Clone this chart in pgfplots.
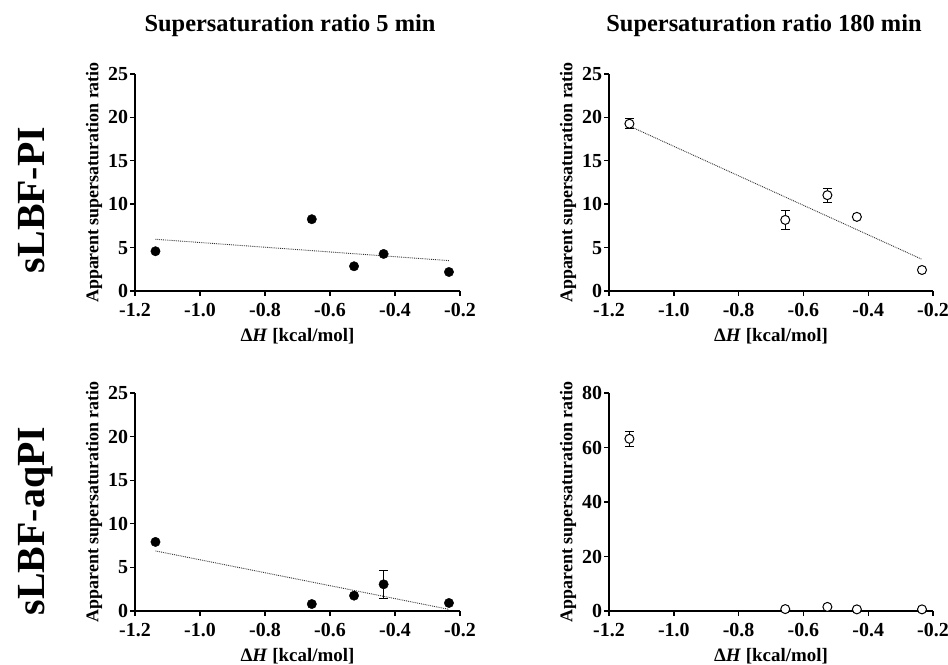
\documentclass[border=0pt]{standalone}
\usepackage{pgfplots}
\pgfplotsset{compat=1.18}
\usepackage{fontspec}
\setmainfont{Liberation Serif}

\pgfplotsset{
  panel/.style={
    scale only axis,
    width=325bp, height=217bp,
    anchor=south west,
    axis lines=left,
    axis line style={-, line width=1.6pt, black},
    every tick/.style={line width=1.4pt, black},
    tick align=outside,
    major tick length=5bp,
    xmin=-1.2, xmax=-0.2,
    xtick={-1.2,-1.0,-0.8,-0.6,-0.4,-0.2},
    xticklabels={-1.2,-1.0,-0.8,-0.6,-0.4,-0.2},
    ticklabel style={font=\fontsize{20}{22}\selectfont\bfseries},
    xticklabel style={yshift=-4bp},
    yticklabel style={xshift=1.5bp},
    /pgf/number format/assume math mode=true,
    xlabel={Δ\textit{H} [kcal/mol]},
    xlabel style={font=\fontsize{19}{21}\selectfont\bfseries, yshift=-4bp},
    ylabel={Apparent supersaturation ratio},
    ylabel style={font=\fontsize{18}{20}\selectfont\bfseries, yshift=-1bp},
    clip=false,
  },
  trend/.style={black!80, densely dotted, line width=0.9pt},
  filled/.style={only marks, mark=*, mark size=4.7bp, black},
  open/.style={only marks, mark=*, mark size=4.5bp, mark options={fill=white, draw=black, line width=1pt}},
  errs/.style={only marks, mark=none, black,
    error bars/.cd, y dir=both, y explicit,
    error bar style={line width=1pt, black},
    error mark options={rotate=90, mark size=4.5bp, line width=1pt, black}},
}

\begin{document}
\begin{tikzpicture}
\path[use as bounding box] (0,0) rectangle (948bp,665bp);

% column titles
\node[font=\fontsize{24.5}{27}\selectfont\bfseries] at (290bp,639bp) {Supersaturation ratio 5 min};
\node[font=\fontsize{24.5}{27}\selectfont\bfseries] at (764bp,639bp) {Supersaturation ratio 180 min};

% row labels
\node[rotate=90, anchor=base, font=\fontsize{40}{44}\selectfont\bfseries] at (44bp,465bp) {sLBF-PI};
\node[rotate=90, anchor=base, font=\fontsize{40}{44}\selectfont\bfseries] at (44bp,144bp) {sLBF-aqPI};

% sLBF-PI, 5 min
\begin{axis}[panel, at={(135bp,374bp)}, ymin=0, ymax=25, ytick={0,5,10,15,20,25}]
\addplot[trend] coordinates {(-1.137,5.96) (-0.234,3.50)};
\addplot[filled] coordinates {
  (-1.137,4.58) (-0.656,8.27) (-0.526,2.85) (-0.435,4.27) (-0.234,2.19)
};
\end{axis}

% sLBF-PI, 180 min
\begin{axis}[panel, at={(609bp,374bp)}, width=324bp, ymin=0, ymax=25, ytick={0,5,10,15,20,25}]
\addplot[trend] coordinates {(-1.137,19.0) (-0.234,3.65)};
\addplot[errs] coordinates {
  (-1.137,19.27) +- (0,0.55)
  (-0.656,8.19) +- (0,1.1)
  (-0.526,11.04) +- (0,0.8)
};
\addplot[open] coordinates {
  (-1.137,19.27) (-0.656,8.19) (-0.526,11.04) (-0.435,8.54) (-0.234,2.42)
};
\end{axis}

% sLBF-aqPI, 5 min
\begin{axis}[panel, at={(135bp,54bp)}, height=218bp, ymin=0, ymax=25, ytick={0,5,10,15,20,25}]
\addplot[trend] coordinates {(-1.137,6.89) (-0.234,0.19)};
\addplot[errs] coordinates {
  (-0.435,3.06) +- (0,1.6)
};
\addplot[filled] coordinates {
  (-1.137,7.92) (-0.656,0.80) (-0.526,1.76) (-0.435,3.06) (-0.234,0.92)
};
\end{axis}

% sLBF-aqPI, 180 min
\begin{axis}[panel, at={(609bp,54bp)}, width=324bp, height=218bp, ymin=0, ymax=80, ytick={0,20,40,60,80}]
\addplot[errs] coordinates {
  (-1.137,63.2) +- (0,2.8)
};
\addplot[open] coordinates {
  (-1.137,63.2) (-0.656,0.7) (-0.526,1.5) (-0.435,0.6) (-0.234,0.6)
};
\end{axis}
\end{tikzpicture}
\end{document}
